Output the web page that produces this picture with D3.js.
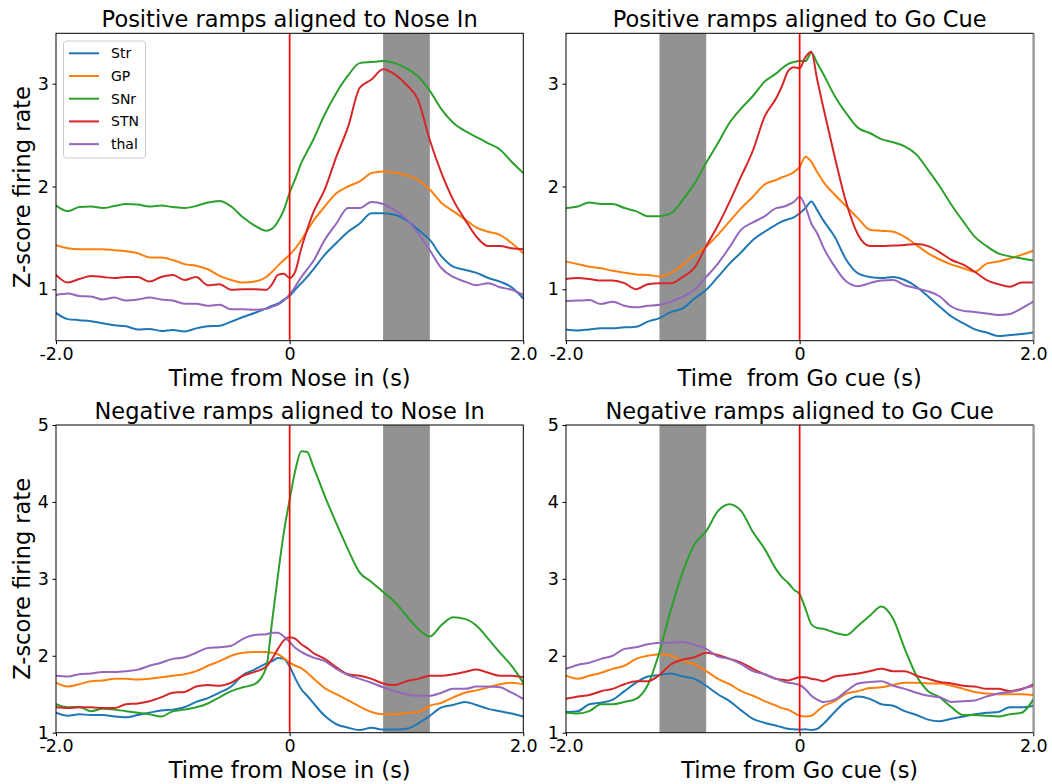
<!DOCTYPE html>
<html>
<head>
<meta charset="utf-8">
<script src="https://cdn.jsdelivr.net/npm/d3@7"></script>
<style>
  body { margin: 0; background: #ffffff; }
  svg { display: block; }
  text { font-family: "DejaVu Sans", sans-serif; }
</style>
</head>
<body>
<svg id="chart" width="1052" height="784"></svg>
<script>
// ---------------- data ----------------
const time = [-2.0,-1.9,-1.8,-1.7,-1.6,-1.5,-1.4,-1.3,-1.2,-1.1,-1.0,-0.9,-0.8,-0.7,-0.6,-0.5,-0.4,-0.3,-0.2,
  -0.15,-0.1,-0.05,0,0.05,0.1,0.15,
  0.2,0.3,0.4,0.5,0.6,0.7,0.8,0.9,1.0,1.1,1.2,1.3,1.4,1.5,1.6,1.7,1.8,1.9,2.0];

const regions = ["Str", "GP", "SNr", "STN", "thal"];
const regionColors = ["#1f77b4", "#ff7f0e", "#2ca02c", "#d62728", "#9467bd"];

const xTickValues = [-2, 0, 2];
const xTickLabels = ["-2.0", "0", "2.0"];
const yTicksPositive = [1, 2, 3];
const yTicksNegative = [1, 2, 3, 4, 5];

const panelTitles = ["Positive ramps aligned to Nose In", "Positive ramps aligned to Go Cue",
                     "Negative ramps aligned to Nose In", "Negative ramps aligned to Go Cue"];
const panelXLabels = ["Time from Nose in (s)", "Time  from Go cue (s)",
                      "Time from Nose in (s)", "Time from Go cue (s)"];
const yLabel = "Z-score firing rate";
const shadedNoseIn = [0.8, 1.2];
const shadedGoCue = [-1.2, -0.8];

// Positive ramps, aligned to Nose In
const posNoseStr = [.77,.71,.70,.69,.67,.65,.64,.61,.615,.595,.605,.59,.62,.64,.645,.685,.73,.77,.815,
  .84,.86,.90,.935,1.0,1.06,1.12,
  1.19,1.335,1.45,1.56,1.64,1.74,1.74,1.725,1.67,1.58,1.48,1.32,1.22,1.19,1.16,1.11,1.075,1.02,.91];
const posNoseGP = [1.43,1.40,1.39,1.39,1.39,1.38,1.37,1.35,1.31,1.31,1.285,1.245,1.23,1.195,1.13,1.09,1.065,1.075,1.12,
  1.17,1.23,1.285,1.335,1.40,1.48,1.57,
  1.66,1.805,1.935,2.0,2.05,2.13,2.146,2.136,2.11,2.065,1.97,1.84,1.76,1.68,1.60,1.56,1.53,1.45,1.35];
const posNoseSNr = [1.815,1.76,1.80,1.805,1.79,1.81,1.83,1.825,1.805,1.815,1.80,1.79,1.81,1.845,1.86,1.805,1.70,1.62,1.57,
  1.59,1.66,1.77,1.94,2.08,2.23,2.34,
  2.45,2.70,2.91,3.08,3.20,3.21,3.22,3.20,3.15,3.07,2.93,2.75,2.62,2.54,2.48,2.42,2.36,2.24,2.13];
const posNoseSTN = [1.14,1.065,1.10,1.13,1.12,1.11,1.12,1.12,1.075,1.12,1.14,1.09,1.12,1.04,1.05,.995,1.0,1.0,.995,
  1.05,1.14,1.15,1.11,1.18,1.40,1.58,
  1.74,1.97,2.29,2.58,2.96,3.04,3.14,3.09,2.99,2.84,2.45,2.13,1.87,1.68,1.51,1.42,1.42,1.40,1.39];
const posNoseThal = [.945,.96,.935,.93,.90,.92,.89,.90,.92,.90,.89,.86,.86,.84,.85,.805,.805,.80,.81,
  .83,.85,.89,.95,1.03,1.12,1.195,
  1.27,1.48,1.64,1.79,1.79,1.85,1.83,1.77,1.68,1.545,1.38,1.205,1.12,1.075,1.04,1.06,1.02,.995,.945];

// Positive ramps, aligned to Go Cue
const posGoStr = [.61,.60,.61,.62,.62,.63,.635,.685,.72,.78,.815,.91,.995,1.12,1.25,1.36,1.48,1.56,1.63,
  1.66,1.68,1.70,1.74,1.79,1.855,1.77,
  1.675,1.51,1.285,1.155,1.12,1.11,1.12,1.09,1.025,.93,.83,.735,.67,.61,.58,.545,.555,.565,.58];
const posGoGP = [1.27,1.245,1.22,1.205,1.18,1.16,1.145,1.14,1.125,1.16,1.24,1.335,1.415,1.53,1.66,1.79,1.90,2.02,2.065,
  2.09,2.11,2.14,2.19,2.29,2.24,2.14,
  2.05,1.92,1.805,1.69,1.58,1.57,1.56,1.51,1.43,1.35,1.29,1.24,1.205,1.17,1.25,1.27,1.30,1.335,1.375];
const posGoSNr = [1.79,1.805,1.845,1.83,1.83,1.79,1.76,1.71,1.71,1.74,1.87,2.03,2.23,2.42,2.62,2.76,2.88,3.02,3.10,
  3.15,3.19,3.21,3.22,3.22,3.30,3.20,
  3.10,2.88,2.71,2.57,2.52,2.46,2.43,2.39,2.31,2.16,2.0,1.82,1.66,1.51,1.42,1.35,1.32,1.30,1.28];
const posGoSTN = [1.10,1.11,1.10,1.085,1.085,1.06,1.0,1.05,1.06,1.06,1.12,1.21,1.42,1.62,1.85,2.1,2.35,2.68,2.86,
  2.98,3.12,3.16,3.15,3.26,3.31,3.04,
  2.78,2.29,1.84,1.53,1.42,1.42,1.425,1.43,1.44,1.42,1.36,1.285,1.24,1.17,1.09,1.05,1.025,1.065,1.065];
const posGoThal = [.885,.89,.895,.857,.88,.84,.825,.84,.85,.88,.93,.995,1.12,1.25,1.41,1.58,1.65,1.71,1.79,
  1.80,1.82,1.85,1.90,1.80,1.64,1.545,
  1.415,1.22,1.075,1.03,1.06,1.085,1.09,1.04,1.01,.98,.93,.83,.79,.78,.765,.75,.76,.815,.88];

// Negative ramps, aligned to Nose In
const negNoseStr = [1.26,1.22,1.24,1.23,1.23,1.21,1.20,1.23,1.26,1.29,1.30,1.33,1.40,1.45,1.52,1.60,1.75,1.82,1.90,
  1.93,1.97,1.96,1.86,1.70,1.565,1.48,
  1.39,1.22,1.11,1.065,1.035,1.065,1.04,1.04,1.05,1.12,1.22,1.33,1.36,1.40,1.36,1.31,1.28,1.25,1.21];
const negNoseGP = [1.65,1.60,1.63,1.67,1.68,1.70,1.70,1.69,1.70,1.72,1.74,1.76,1.80,1.87,1.93,2.0,2.04,2.05,2.05,
  2.04,2.02,1.97,1.91,1.87,1.84,1.78,
  1.71,1.58,1.50,1.42,1.34,1.27,1.24,1.24,1.26,1.27,1.35,1.39,1.46,1.52,1.55,1.59,1.63,1.65,1.63];
const negNoseSNr = [1.37,1.33,1.335,1.28,1.31,1.30,1.28,1.26,1.24,1.21,1.28,1.30,1.33,1.38,1.46,1.54,1.59,1.63,1.85,
  2.45,3.05,3.6,4.03,4.42,4.66,4.65,
  4.47,4.08,3.72,3.38,3.08,2.96,2.83,2.70,2.52,2.35,2.25,2.40,2.50,2.48,2.39,2.22,2.04,1.87,1.65];
const negNoseSTN = [1.33,1.32,1.33,1.33,1.32,1.32,1.37,1.38,1.41,1.46,1.52,1.53,1.60,1.62,1.61,1.65,1.74,1.79,1.86,
  1.96,2.09,2.20,2.24,2.22,2.15,2.10,
  2.04,1.96,1.85,1.76,1.74,1.70,1.64,1.62,1.67,1.70,1.74,1.74,1.76,1.79,1.82,1.78,1.74,1.74,1.72];
const negNoseThal = [1.74,1.73,1.76,1.77,1.79,1.79,1.80,1.82,1.87,1.91,1.96,1.98,2.04,2.10,2.11,2.13,2.22,2.27,2.28,
  2.30,2.30,2.25,2.18,2.10,2.05,2.01,
  1.98,1.93,1.83,1.75,1.70,1.65,1.59,1.54,1.50,1.48,1.48,1.52,1.57,1.57,1.60,1.60,1.59,1.52,1.44];

// Negative ramps, aligned to Go Cue
const negGoStr = [1.27,1.28,1.37,1.39,1.43,1.54,1.65,1.73,1.75,1.77,1.73,1.70,1.61,1.50,1.41,1.29,1.18,1.13,1.09,
  1.07,1.05,1.045,1.04,1.045,1.035,1.05,
  1.11,1.27,1.41,1.47,1.44,1.37,1.35,1.28,1.23,1.17,1.15,1.18,1.21,1.24,1.26,1.27,1.33,1.33,1.35];
const negGoGP = [1.74,1.70,1.74,1.78,1.83,1.87,1.96,2.0,2.02,2.0,1.93,1.89,1.80,1.70,1.63,1.54,1.48,1.41,1.35,
  1.32,1.30,1.26,1.22,1.21,1.22,1.28,
  1.34,1.41,1.51,1.54,1.58,1.59,1.62,1.65,1.65,1.64,1.64,1.61,1.57,1.53,1.51,1.50,1.50,1.50,1.49];
const negGoSNr = [1.26,1.25,1.28,1.37,1.37,1.40,1.44,1.62,2.05,2.61,3.09,3.45,3.62,3.88,3.97,3.88,3.61,3.39,3.12,
  3.02,2.95,2.86,2.80,2.61,2.41,2.36,
  2.35,2.30,2.27,2.39,2.52,2.64,2.48,2.09,1.74,1.54,1.46,1.33,1.23,1.23,1.22,1.21,1.24,1.26,1.43];
const negGoSTN = [1.44,1.47,1.49,1.54,1.57,1.63,1.67,1.67,1.75,1.89,1.95,1.98,2.04,2.01,1.96,1.91,1.83,1.76,1.70,
  1.69,1.68,1.70,1.72,1.72,1.70,1.69,
  1.67,1.73,1.75,1.77,1.80,1.83,1.80,1.80,1.74,1.70,1.66,1.64,1.61,1.60,1.57,1.57,1.54,1.57,1.61];
const negGoThal = [1.83,1.88,1.91,1.96,2.0,2.09,2.11,2.15,2.17,2.17,2.18,2.14,2.09,1.99,1.96,1.89,1.80,1.76,1.70,
  1.67,1.65,1.64,1.62,1.565,1.48,1.43,
  1.40,1.43,1.54,1.64,1.66,1.67,1.61,1.57,1.52,1.48,1.46,1.40,1.41,1.42,1.47,1.51,1.53,1.56,1.63];

// ---------------- layout ----------------
const W = 1052, H = 784;
const colX = [[56, 523.3], [566, 1033.3]];
const rowY = [[33.3, 340.7], [425, 732.7]];

const panels = [
  { col: 0, row: 0, title: panelTitles[0], xlabel: panelXLabels[0], showY: true, legend: true,
    yDomain: [0.5, 3.49], yTicks: yTicksPositive, band: shadedNoseIn,
    series: [posNoseStr, posNoseGP, posNoseSNr, posNoseSTN, posNoseThal] },
  { col: 1, row: 0, title: panelTitles[1], xlabel: panelXLabels[1], showY: false, legend: false,
    yDomain: [0.5, 3.49], yTicks: yTicksPositive, band: shadedGoCue,
    series: [posGoStr, posGoGP, posGoSNr, posGoSTN, posGoThal] },
  { col: 0, row: 1, title: panelTitles[2], xlabel: panelXLabels[2], showY: true, legend: false,
    yDomain: [1, 5], yTicks: yTicksNegative, band: shadedNoseIn,
    series: [negNoseStr, negNoseGP, negNoseSNr, negNoseSTN, negNoseThal] },
  { col: 1, row: 1, title: panelTitles[3], xlabel: panelXLabels[3], showY: false, legend: false,
    yDomain: [1, 5], yTicks: yTicksNegative, band: shadedGoCue,
    series: [negGoStr, negGoGP, negGoSNr, negGoSTN, negGoThal] }
];

const svg = d3.select("#chart");
svg.append("rect").attr("width", W).attr("height", H).attr("fill", "#ffffff");
const defs = svg.append("defs");

panels.forEach((p, pi) => {
  const [x0, x1] = colX[p.col];
  const [y0, y1] = rowY[p.row];
  const x = d3.scaleLinear().domain([-2, 2]).range([x0, x1]);
  const y = d3.scaleLinear().domain(p.yDomain).range([y1, y0]);
  const g = svg.append("g");

  const clipId = "clip" + pi;
  defs.append("clipPath").attr("id", clipId)
    .append("rect").attr("x", x0).attr("y", y0).attr("width", x1 - x0).attr("height", y1 - y0);

  // shaded window
  g.append("rect")
    .attr("x", x(p.band[0])).attr("y", y0)
    .attr("width", x(p.band[1]) - x(p.band[0])).attr("height", y1 - y0)
    .attr("fill", "#929292");

  // lines
  const line = d3.line().x((d, i) => x(time[i])).y(d => y(d)).curve(d3.curveMonotoneX);
  const lg = g.append("g").attr("clip-path", `url(#${clipId})`);
  p.series.forEach((s, si) => {
    lg.append("path").datum(s).attr("d", line)
      .attr("fill", "none").attr("stroke", regionColors[si])
      .attr("stroke-width", 2).attr("stroke-linejoin", "round").attr("stroke-linecap", "round");
  });

  // event line at 0
  g.append("line").attr("x1", x(0)).attr("x2", x(0)).attr("y1", y0).attr("y2", y1)
    .attr("stroke", "#ff0000").attr("stroke-width", 1.7);

  // axes
  const xAxis = d3.axisBottom(x).tickValues(xTickValues)
    .tickFormat((d, i) => xTickLabels[i]).tickSize(3.5).tickPadding(3.5).tickSizeOuter(0);
  const gx = g.append("g").attr("transform", `translate(0,${y1})`).call(xAxis);
  const yAxis = d3.axisLeft(y).tickValues(p.yTicks).tickFormat(d3.format("d"))
    .tickSize(3.5).tickPadding(3.5).tickSizeOuter(0);
  const gy = g.append("g").attr("transform", `translate(${x0},0)`).call(yAxis);
  [gx, gy].forEach(a => {
    a.select(".domain").remove();
    a.selectAll(".tick line").attr("stroke", "#000").attr("stroke-width", 1);
    a.selectAll(".tick text").attr("fill", "#000")
      .style("font-family", '"DejaVu Sans", sans-serif').style("font-size", "17.5px");
  });

  // frame
  g.append("rect").attr("x", x0).attr("y", y0).attr("width", x1 - x0).attr("height", y1 - y0)
    .attr("fill", "none").attr("stroke", "#000").attr("stroke-width", 1);
  if (p.col === 1) {
    g.append("line").attr("x1", x1 + 0.5).attr("x2", x1 + 0.5).attr("y1", y0).attr("y2", y1)
      .attr("stroke", "#9a9a9a").attr("stroke-width", 2);
  }

  // title
  g.append("text").attr("x", (x0 + x1) / 2).attr("y", y0 - 6)
    .attr("text-anchor", "middle").style("font-size", "22.5px").attr("fill", "#000")
    .text(p.title);

  // x label
  g.append("text").attr("x", (x0 + x1) / 2).attr("y", y1 + 45)
    .attr("text-anchor", "middle").style("font-size", "22.5px").style("white-space", "pre")
    .attr("fill", "#000").text(p.xlabel);

  // y label
  if (p.showY) {
    g.append("text")
      .attr("transform", `translate(29.5,${(y0 + y1) / 2}) rotate(-90)`)
      .attr("text-anchor", "middle").style("font-size", "22.5px").attr("fill", "#000")
      .text(yLabel);
  }

  // legend
  if (p.legend) {
    const lgX = 63.5, lgY = 41, lgW = 82, lgH = 117, rowH = 22.7;
    const leg = g.append("g");
    leg.append("rect").attr("x", lgX).attr("y", lgY).attr("width", lgW).attr("height", lgH)
      .attr("rx", 3).attr("ry", 3)
      .attr("fill", "#ffffff").attr("fill-opacity", 0.8)
      .attr("stroke", "#cccccc").attr("stroke-width", 1);
    regions.forEach((r, ri) => {
      const cy = lgY + 12.3 + ri * rowH;
      leg.append("line").attr("x1", lgX + 5.5).attr("x2", lgX + 35.5)
        .attr("y1", cy).attr("y2", cy)
        .attr("stroke", regionColors[ri]).attr("stroke-width", 2);
      leg.append("text").attr("x", lgX + 47.5).attr("y", cy + 5)
        .style("font-size", "14px").attr("fill", "#000").text(r);
    });
  }
});
</script>
</body>
</html>
